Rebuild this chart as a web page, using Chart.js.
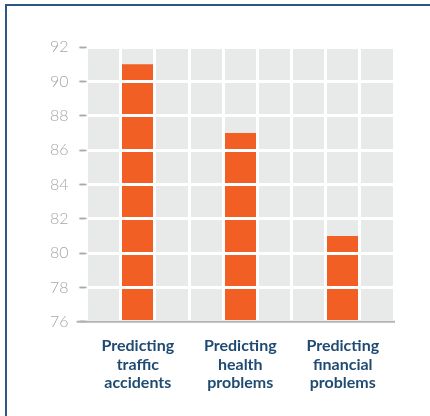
<!DOCTYPE html>
<html>
<head>
<meta charset="utf-8">
<script src="https://cdn.jsdelivr.net/npm/chart.js@4"></script>
<style>
  html, body { margin: 0; padding: 0; background: #fff; }
  #wrap { position: relative; width: 430px; height: 416px; }
  #frame { position: absolute; left: 5px; top: 4px; right: 0; bottom: 0;
           border-left: 2px solid #2a5885; border-top: 2px solid #2a5885; }
  canvas { position: absolute; left: 0; top: 0; }
</style>
</head>
<body>
<div id="wrap">
  <div id="frame"></div>
  <canvas id="myChart" width="430" height="416"></canvas>
</div>
<script>
let categories = [
  ['Predicting', 'traffic', 'accidents'],
  ['Predicting', 'health', 'problems'],
  ['Predicting', 'financial', 'problems']
];
let values = [91, 87, 81];
let yMin = 76;
let yMax = 92;
let yStep = 2;

// grey plot background, white grid redrawn over the bars, grey baseline
const plotBg = {
  id: 'plotBg',
  beforeDraw(chart) {
    const {ctx, chartArea: a} = chart;
    ctx.save();
    ctx.fillStyle = '#e8e9e9';
    ctx.fillRect(a.left, a.top, a.right - a.left, a.bottom - a.top);
    ctx.restore();
  },
  afterDatasetsDraw(chart) {
    chart.scales.xg.drawGrid(chart.chartArea);
    chart.scales.y.drawGrid(chart.chartArea);
  },
  afterDraw(chart) {
    const {ctx, chartArea: a} = chart;
    ctx.save();
    ctx.strokeStyle = '#b3b3b3';
    ctx.lineWidth = 2;
    ctx.beginPath();
    ctx.moveTo(a.left - 10, a.bottom);
    ctx.lineTo(a.right + 1, a.bottom);
    ctx.stroke();
    ctx.restore();
  }
};

function makeChart() {
  let myChart = document.getElementById('myChart').getContext('2d');
  new Chart(myChart, {
    type: 'bar',
    data: {
      labels: categories,
      datasets: [{
        data: values,
        backgroundColor: '#f15f24',
        borderWidth: 0,
        barPercentage: 0.3334,
        categoryPercentage: 1
      }]
    },
    options: {
      responsive: false,
      animation: false,
      layout: { padding: { left: 42, right: 36, top: 47, bottom: 9 } },
      plugins: { legend: { display: false }, tooltip: { enabled: false } },
      scales: {
        x: {
          grid: { display: false, drawTicks: false },
          border: { display: false },
          ticks: {
            color: '#1f4b73',
            padding: 15,
            font: { family: 'Lato', size: 16, weight: 'bold', lineHeight: 1.15 },
            maxRotation: 0
          }
        },
        xg: {
          type: 'linear',
          position: 'top',
          min: 0,
          max: 9,
          offset: false,
          ticks: { display: false, stepSize: 1 },
          grid: { color: '#ffffff', lineWidth: 3, drawTicks: false, offset: false },
          border: { display: false }
        },
        y: {
          min: yMin,
          max: yMax,
          ticks: {
            stepSize: yStep,
            color: '#a6a6a6',
            padding: 8,
            font: { family: 'Lato', size: 16, weight: 300 }
          },
          grid: {
            color: '#ffffff',
            lineWidth: 3,
            tickColor: '#aaaaaa',
            tickWidth: 1.5,
            tickLength: 10,
            tickBorderDash: [0, 3, 7, 50]
          },
          border: { display: false }
        }
      }
    },
    plugins: [plotBg]
  });
}

makeChart();
</script>
</body>
</html>
